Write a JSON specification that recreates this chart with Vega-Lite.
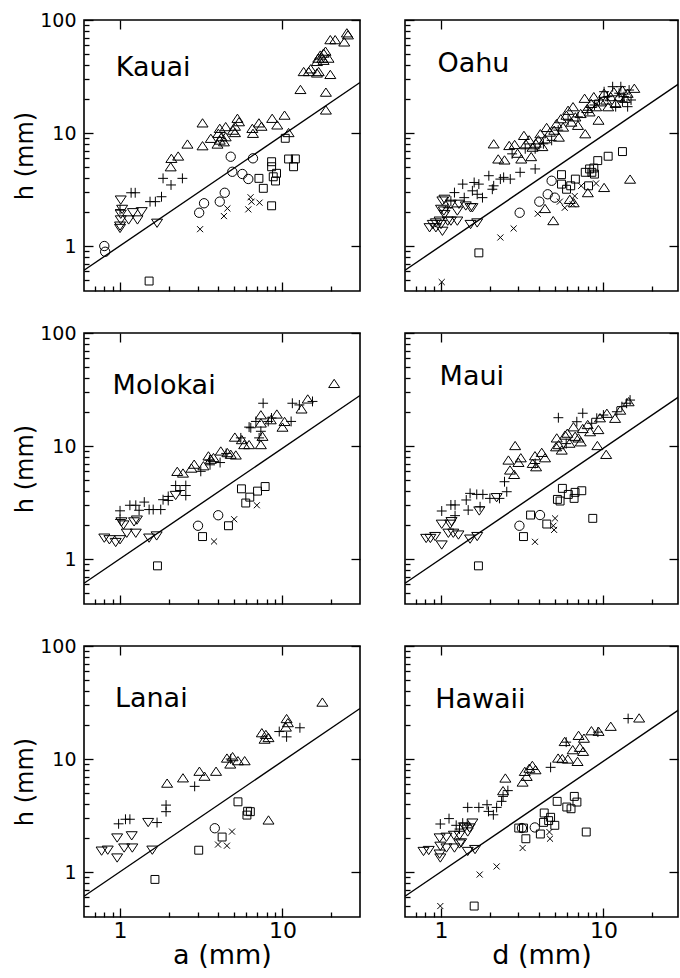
{
"$schema": "https://vega.github.io/schema/vega-lite/v6.json",
"padding": {"left": 12, "top": 10, "right": 0, "bottom": 4},
"background": "white",
"config": {
  "font": "DejaVu Sans",
  "view": {"stroke": "black", "strokeWidth": 1.6},
  "axis": {"domain": false, "grid": false, "tickColor": "black", "tickWidth": 1.3, "labelColor": "black", "titleColor": "black", "titleFontWeight": "normal", "labelOverlap": false, "labelFlush": false, "zindex": 1},
  "text": {"color": "black"}
},
"datasets": {
"fit": [{"a": 0.6, "h": 0.61}, {"a": 30, "h": 28}],
"lab": [{"i":"Kauai","a":0.94,"h":32},{"i":"Oahu","a":0.95,"h":35},{"i":"Molokai","a":0.9,"h":29},{"i":"Maui","a":0.98,"h":35},{"i":"Lanai","a":0.93,"h":29},{"i":"Hawaii","a":0.92,"h":28.5}],
"pts": [
{"i":"Kauai","s":"o","a":0.8,"h":1.0},{"i":"Kauai","s":"o","a":0.81,"h":0.89},{"i":"Kauai","s":"o","a":3.07,"h":1.97},{"i":"Kauai","s":"o","a":3.29,"h":2.39},{"i":"Kauai","s":"o","a":4.11,"h":2.47},{"i":"Kauai","s":"o","a":4.41,"h":2.96},{"i":"Kauai","s":"o","a":4.8,"h":6.17},{"i":"Kauai","s":"o","a":4.91,"h":4.54},{"i":"Kauai","s":"o","a":5.66,"h":4.34},{"i":"Kauai","s":"o","a":6.16,"h":3.92},{"i":"Kauai","s":"o","a":6.58,"h":5.97},
{"i":"Kauai","s":"x","a":3.11,"h":1.41},{"i":"Kauai","s":"x","a":4.36,"h":1.84},{"i":"Kauai","s":"x","a":4.58,"h":2.15},{"i":"Kauai","s":"x","a":6.16,"h":2.11},{"i":"Kauai","s":"x","a":6.36,"h":2.7},{"i":"Kauai","s":"x","a":6.45,"h":2.47},{"i":"Kauai","s":"x","a":7.22,"h":2.42},
{"i":"Kauai","s":"q","a":1.51,"h":0.49},{"i":"Kauai","s":"q","a":7.16,"h":3.97},{"i":"Kauai","s":"q","a":7.62,"h":3.24},{"i":"Kauai","s":"q","a":8.57,"h":5.57},{"i":"Kauai","s":"q","a":8.57,"h":5.03},{"i":"Kauai","s":"q","a":8.77,"h":4.1},{"i":"Kauai","s":"q","a":9.19,"h":4.4},{"i":"Kauai","s":"q","a":9.06,"h":3.76},{"i":"Kauai","s":"q","a":8.57,"h":2.27},{"i":"Kauai","s":"q","a":10.4,"h":8.98},{"i":"Kauai","s":"q","a":10.9,"h":5.89},{"i":"Kauai","s":"q","a":11.7,"h":5.03},{"i":"Kauai","s":"q","a":12.0,"h":5.9},
{"i":"Kauai","s":"d","a":1.01,"h":2.55},{"i":"Kauai","s":"d","a":1.03,"h":2.11},{"i":"Kauai","s":"d","a":1.01,"h":1.91},{"i":"Kauai","s":"d","a":1.01,"h":1.7},{"i":"Kauai","s":"d","a":1.0,"h":1.43},{"i":"Kauai","s":"d","a":1.0,"h":1.5},{"i":"Kauai","s":"d","a":1.13,"h":1.7},{"i":"Kauai","s":"d","a":1.2,"h":1.97},{"i":"Kauai","s":"d","a":1.36,"h":2.01},{"i":"Kauai","s":"d","a":1.28,"h":1.7},{"i":"Kauai","s":"d","a":1.69,"h":1.59},
{"i":"Kauai","s":"p","a":1.17,"h":2.96},{"i":"Kauai","s":"p","a":1.24,"h":2.96},{"i":"Kauai","s":"p","a":1.53,"h":2.47},{"i":"Kauai","s":"p","a":1.65,"h":2.47},{"i":"Kauai","s":"p","a":1.8,"h":2.73},{"i":"Kauai","s":"p","a":1.84,"h":3.97},{"i":"Kauai","s":"p","a":2.06,"h":3.47},{"i":"Kauai","s":"p","a":2.42,"h":3.97},{"i":"Kauai","s":"p","a":1.0,"h":2.1},
{"i":"Kauai","s":"u","a":2.05,"h":5.03},{"i":"Kauai","s":"u","a":2.07,"h":5.97},{"i":"Kauai","s":"u","a":2.28,"h":6.26},{"i":"Kauai","s":"u","a":2.6,"h":7.99},{"i":"Kauai","s":"u","a":3.22,"h":12.3},{"i":"Kauai","s":"u","a":3.22,"h":7.72},{"i":"Kauai","s":"u","a":3.62,"h":8.98},{"i":"Kauai","s":"u","a":3.98,"h":7.99},{"i":"Kauai","s":"u","a":4.11,"h":8.67},{"i":"Kauai","s":"u","a":4.22,"h":9.27},{"i":"Kauai","s":"u","a":4.36,"h":8.37},{"i":"Kauai","s":"u","a":4.47,"h":9.27},{"i":"Kauai","s":"u","a":4.11,"h":11.0},{"i":"Kauai","s":"u","a":4.47,"h":11.4},{"i":"Kauai","s":"u","a":4.03,"h":9.94},{"i":"Kauai","s":"u","a":4.96,"h":10.6},{"i":"Kauai","s":"u","a":5.1,"h":11.5},{"i":"Kauai","s":"u","a":5.28,"h":13.5},{"i":"Kauai","s":"u","a":5.4,"h":12.6},{"i":"Kauai","s":"u","a":5.1,"h":10.1},{"i":"Kauai","s":"u","a":6.52,"h":11.0},{"i":"Kauai","s":"u","a":6.58,"h":9.94},{"i":"Kauai","s":"u","a":7.16,"h":12.3},{"i":"Kauai","s":"u","a":7.43,"h":11.5},{"i":"Kauai","s":"u","a":8.64,"h":13.5},{"i":"Kauai","s":"u","a":9.28,"h":11.8},{"i":"Kauai","s":"u","a":10.3,"h":14.4},{"i":"Kauai","s":"u","a":10.9,"h":10.1},
{"i":"Kauai","s":"u","a":12.9,"h":24.3},{"i":"Kauai","s":"u","a":13.5,"h":35},{"i":"Kauai","s":"u","a":14.5,"h":35},{"i":"Kauai","s":"u","a":14.9,"h":37},{"i":"Kauai","s":"u","a":16.3,"h":34},{"i":"Kauai","s":"u","a":16.3,"h":43},{"i":"Kauai","s":"u","a":16.6,"h":46},{"i":"Kauai","s":"u","a":17.1,"h":49},{"i":"Kauai","s":"u","a":17.9,"h":51},{"i":"Kauai","s":"u","a":18.4,"h":53},{"i":"Kauai","s":"u","a":17.6,"h":46},{"i":"Kauai","s":"u","a":17.9,"h":44},{"i":"Kauai","s":"u","a":19.2,"h":46},{"i":"Kauai","s":"u","a":16.7,"h":35},{"i":"Kauai","s":"u","a":19.7,"h":33},{"i":"Kauai","s":"u","a":18.5,"h":23},{"i":"Kauai","s":"u","a":18.5,"h":16},{"i":"Kauai","s":"u","a":19.7,"h":67},{"i":"Kauai","s":"u","a":21.1,"h":67},{"i":"Kauai","s":"u","a":24.0,"h":64},{"i":"Kauai","s":"u","a":24.9,"h":77},{"i":"Kauai","s":"u","a":25.3,"h":74},

{"i":"Oahu","s":"u","a":2.11,"h":8.03},{"i":"Oahu","s":"u","a":2.25,"h":5.9},{"i":"Oahu","s":"u","a":2.46,"h":5.78},{"i":"Oahu","s":"u","a":2.63,"h":7.76},{"i":"Oahu","s":"u","a":2.84,"h":7.92},{"i":"Oahu","s":"u","a":2.96,"h":6.63},{"i":"Oahu","s":"u","a":3.12,"h":5.9},{"i":"Oahu","s":"u","a":3.24,"h":9.53},{"i":"Oahu","s":"u","a":3.33,"h":8.03},{"i":"Oahu","s":"u","a":3.49,"h":8.71},{"i":"Oahu","s":"u","a":3.59,"h":6.19},{"i":"Oahu","s":"u","a":3.66,"h":7.5},{"i":"Oahu","s":"u","a":3.83,"h":8.14},{"i":"Oahu","s":"u","a":3.98,"h":8.71},{"i":"Oahu","s":"u","a":4.09,"h":9.86},{"i":"Oahu","s":"u","a":4.21,"h":7.6},{"i":"Oahu","s":"u","a":4.37,"h":8.89},{"i":"Oahu","s":"u","a":4.47,"h":11.2},{"i":"Oahu","s":"u","a":4.69,"h":10.2},{"i":"Oahu","s":"u","a":4.98,"h":10.6},{"i":"Oahu","s":"u","a":5.14,"h":12.1},{"i":"Oahu","s":"u","a":5.32,"h":9.21},{"i":"Oahu","s":"u","a":5.47,"h":13.4},{"i":"Oahu","s":"u","a":5.65,"h":11.3},{"i":"Oahu","s":"u","a":5.92,"h":14.4},{"i":"Oahu","s":"u","a":6.06,"h":15.9},{"i":"Oahu","s":"u","a":6.35,"h":12.5},{"i":"Oahu","s":"u","a":6.5,"h":17.1},{"i":"Oahu","s":"u","a":6.72,"h":13.9},{"i":"Oahu","s":"u","a":6.97,"h":11.7},{"i":"Oahu","s":"u","a":7.24,"h":14.9},{"i":"Oahu","s":"u","a":7.66,"h":20.3},{"i":"Oahu","s":"u","a":7.73,"h":9.86},{"i":"Oahu","s":"u","a":7.95,"h":16.5},{"i":"Oahu","s":"u","a":8.22,"h":15.4},{"i":"Oahu","s":"u","a":8.41,"h":18.3},{"i":"Oahu","s":"u","a":8.73,"h":21.0},{"i":"Oahu","s":"u","a":9.02,"h":17.1},{"i":"Oahu","s":"u","a":9.33,"h":13.0},{"i":"Oahu","s":"u","a":9.68,"h":18.9},{"i":"Oahu","s":"u","a":10.1,"h":22.5},{"i":"Oahu","s":"u","a":10.4,"h":19.6},{"i":"Oahu","s":"u","a":10.7,"h":17.1},{"i":"Oahu","s":"u","a":11.1,"h":21.0},{"i":"Oahu","s":"u","a":11.6,"h":23.2},{"i":"Oahu","s":"u","a":11.9,"h":18.3},{"i":"Oahu","s":"u","a":12.5,"h":21.0},{"i":"Oahu","s":"u","a":13.1,"h":24.0},{"i":"Oahu","s":"u","a":13.6,"h":20.3},{"i":"Oahu","s":"u","a":14.1,"h":22.5},{"i":"Oahu","s":"u","a":15.5,"h":24.9},
{"i":"Oahu","s":"p","a":1.21,"h":2.97},{"i":"Oahu","s":"p","a":1.36,"h":3.53},{"i":"Oahu","s":"p","a":1.6,"h":3.65},{"i":"Oahu","s":"p","a":1.71,"h":3.53},{"i":"Oahu","s":"p","a":1.56,"h":3.08},{"i":"Oahu","s":"p","a":1.67,"h":2.87},{"i":"Oahu","s":"p","a":1.8,"h":2.68},{"i":"Oahu","s":"p","a":1.97,"h":4.19},{"i":"Oahu","s":"p","a":2.11,"h":3.41},{"i":"Oahu","s":"p","a":2.32,"h":3.91},{"i":"Oahu","s":"p","a":2.43,"h":4.05},{"i":"Oahu","s":"p","a":2.67,"h":3.91},{"i":"Oahu","s":"p","a":3.07,"h":4.49},{"i":"Oahu","s":"p","a":3.8,"h":4.81},{"i":"Oahu","s":"p","a":2.07,"h":3.18},{"i":"Oahu","s":"p","a":1.39,"h":2.68},{"i":"Oahu","s":"p","a":1.15,"h":2.5},{"i":"Oahu","s":"p","a":1.1,"h":2.18},{"i":"Oahu","s":"p","a":2.74,"h":6.54},{"i":"Oahu","s":"p","a":3.3,"h":7.25},{"i":"Oahu","s":"p","a":3.8,"h":7.25},{"i":"Oahu","s":"p","a":4.27,"h":8.03},{"i":"Oahu","s":"p","a":4.8,"h":8.61},{"i":"Oahu","s":"p","a":5.27,"h":10.6},{"i":"Oahu","s":"p","a":6.06,"h":13.0},{"i":"Oahu","s":"p","a":6.97,"h":13.9},{"i":"Oahu","s":"p","a":8.02,"h":15.9},{"i":"Oahu","s":"p","a":8.81,"h":17.7},{"i":"Oahu","s":"p","a":9.46,"h":19.6},{"i":"Oahu","s":"p","a":10.1,"h":23.2},{"i":"Oahu","s":"p","a":10.6,"h":21.0},{"i":"Oahu","s":"p","a":11.4,"h":25.7},{"i":"Oahu","s":"p","a":11.9,"h":17.1},{"i":"Oahu","s":"p","a":12.5,"h":22.5},{"i":"Oahu","s":"p","a":12.8,"h":25.7},{"i":"Oahu","s":"p","a":13.4,"h":21.0},{"i":"Oahu","s":"p","a":14.1,"h":17.1},{"i":"Oahu","s":"p","a":14.4,"h":24.0},{"i":"Oahu","s":"p","a":14.8,"h":19.6},{"i":"Oahu","s":"p","a":13.1,"h":18.9},
{"i":"Oahu","s":"d","a":0.85,"h":1.45},{"i":"Oahu","s":"d","a":0.89,"h":1.55},{"i":"Oahu","s":"d","a":0.93,"h":1.6},{"i":"Oahu","s":"d","a":1.0,"h":1.55},{"i":"Oahu","s":"d","a":1.02,"h":1.35},{"i":"Oahu","s":"d","a":0.93,"h":1.45},{"i":"Oahu","s":"d","a":0.98,"h":1.66},{"i":"Oahu","s":"d","a":1.1,"h":1.66},{"i":"Oahu","s":"d","a":1.15,"h":1.66},{"i":"Oahu","s":"d","a":1.26,"h":1.66},{"i":"Oahu","s":"d","a":1.52,"h":1.55},{"i":"Oahu","s":"d","a":1.67,"h":1.6},{"i":"Oahu","s":"d","a":1.02,"h":2.5},{"i":"Oahu","s":"d","a":1.04,"h":2.04},{"i":"Oahu","s":"d","a":1.05,"h":1.9},{"i":"Oahu","s":"d","a":1.15,"h":2.34},{"i":"Oahu","s":"d","a":1.29,"h":2.34},{"i":"Oahu","s":"d","a":1.52,"h":2.18},{"i":"Oahu","s":"d","a":1.0,"h":2.11},{"i":"Oahu","s":"d","a":1.05,"h":2.59},{"i":"Oahu","s":"d","a":1.26,"h":2.04},{"i":"Oahu","s":"d","a":1.42,"h":2.26},{"i":"Oahu","s":"d","a":1.56,"h":2.18},
{"i":"Oahu","s":"x","a":1.01,"h":0.48},{"i":"Oahu","s":"x","a":2.32,"h":1.19},{"i":"Oahu","s":"x","a":2.8,"h":1.43},{"i":"Oahu","s":"x","a":3.94,"h":1.93},{"i":"Oahu","s":"x","a":5.39,"h":2.47},{"i":"Oahu","s":"x","a":5.78,"h":2.18},{"i":"Oahu","s":"x","a":6.47,"h":2.34},{"i":"Oahu","s":"x","a":6.66,"h":2.77},{"i":"Oahu","s":"x","a":7.3,"h":3.41},{"i":"Oahu","s":"x","a":9.02,"h":3.58},
{"i":"Oahu","s":"o","a":3.05,"h":1.97},{"i":"Oahu","s":"o","a":4.03,"h":2.47},{"i":"Oahu","s":"o","a":4.54,"h":2.87},{"i":"Oahu","s":"o","a":5.02,"h":2.68},{"i":"Oahu","s":"o","a":4.8,"h":3.78},
{"i":"Oahu","s":"q","a":1.71,"h":0.87},{"i":"Oahu","s":"q","a":5.52,"h":4.28},{"i":"Oahu","s":"q","a":5.52,"h":3.53},{"i":"Oahu","s":"q","a":5.93,"h":3.18},{"i":"Oahu","s":"q","a":6.29,"h":3.41},{"i":"Oahu","s":"q","a":6.72,"h":3.91},{"i":"Oahu","s":"q","a":7.73,"h":4.49},{"i":"Oahu","s":"q","a":8.1,"h":3.41},{"i":"Oahu","s":"q","a":8.22,"h":4.81},{"i":"Oahu","s":"q","a":8.49,"h":4.49},{"i":"Oahu","s":"q","a":8.73,"h":4.9},{"i":"Oahu","s":"q","a":8.81,"h":4.33},{"i":"Oahu","s":"q","a":9.23,"h":5.7},{"i":"Oahu","s":"q","a":10.7,"h":6.23},{"i":"Oahu","s":"q","a":13.1,"h":6.85},
{"i":"Oahu","s":"u","a":4.37,"h":2.15},{"i":"Oahu","s":"u","a":4.91,"h":1.68},{"i":"Oahu","s":"u","a":6.21,"h":2.59},{"i":"Oahu","s":"u","a":6.56,"h":2.42},{"i":"Oahu","s":"u","a":8.02,"h":2.97},{"i":"Oahu","s":"u","a":10.1,"h":3.3},{"i":"Oahu","s":"u","a":14.6,"h":3.91},

{"i":"Molokai","s":"q","a":1.7,"h":0.87},{"i":"Molokai","s":"q","a":3.22,"h":1.58},{"i":"Molokai","s":"q","a":4.65,"h":1.97},{"i":"Molokai","s":"q","a":5.59,"h":4.18},{"i":"Molokai","s":"q","a":5.94,"h":3.13},{"i":"Molokai","s":"q","a":6.29,"h":3.53},{"i":"Molokai","s":"q","a":7.02,"h":3.99},{"i":"Molokai","s":"q","a":7.82,"h":4.38},
{"i":"Molokai","s":"o","a":3.02,"h":1.97},{"i":"Molokai","s":"o","a":4.02,"h":2.44},
{"i":"Molokai","s":"x","a":3.79,"h":1.43},{"i":"Molokai","s":"x","a":5.04,"h":2.25},{"i":"Molokai","s":"x","a":6.95,"h":2.99},
{"i":"Molokai","s":"d","a":0.8,"h":1.53},{"i":"Molokai","s":"d","a":0.86,"h":1.48},{"i":"Molokai","s":"d","a":0.94,"h":1.4},{"i":"Molokai","s":"d","a":1.0,"h":1.48},{"i":"Molokai","s":"d","a":1.05,"h":2.0},{"i":"Molokai","s":"d","a":1.02,"h":2.13},{"i":"Molokai","s":"d","a":1.1,"h":1.69},{"i":"Molokai","s":"d","a":1.22,"h":2.13},{"i":"Molokai","s":"d","a":1.27,"h":2.21},{"i":"Molokai","s":"d","a":1.25,"h":1.69},{"i":"Molokai","s":"d","a":1.51,"h":1.53},{"i":"Molokai","s":"d","a":1.68,"h":1.6},{"i":"Molokai","s":"d","a":2.2,"h":3.65},
{"i":"Molokai","s":"p","a":1.0,"h":2.67},{"i":"Molokai","s":"p","a":1.0,"h":2.24},{"i":"Molokai","s":"p","a":1.15,"h":2.99},{"i":"Molokai","s":"p","a":1.25,"h":2.99},{"i":"Molokai","s":"p","a":1.31,"h":2.7},{"i":"Molokai","s":"p","a":1.41,"h":3.19},{"i":"Molokai","s":"p","a":1.51,"h":2.74},{"i":"Molokai","s":"p","a":1.6,"h":2.74},{"i":"Molokai","s":"p","a":1.78,"h":2.74},{"i":"Molokai","s":"p","a":1.84,"h":3.35},{"i":"Molokai","s":"p","a":1.98,"h":3.58},{"i":"Molokai","s":"p","a":1.98,"h":3.3},{"i":"Molokai","s":"p","a":2.2,"h":4.47},{"i":"Molokai","s":"p","a":2.34,"h":4.04},{"i":"Molokai","s":"p","a":2.54,"h":3.65},{"i":"Molokai","s":"p","a":2.54,"h":4.47},{"i":"Molokai","s":"p","a":3.14,"h":5.97},{"i":"Molokai","s":"p","a":3.58,"h":6.82},{"i":"Molokai","s":"p","a":4.13,"h":7.14},{"i":"Molokai","s":"p","a":6.23,"h":14.7},{"i":"Molokai","s":"p","a":7.36,"h":13.5},{"i":"Molokai","s":"p","a":7.6,"h":23.9},{"i":"Molokai","s":"p","a":11.3,"h":16.5},{"i":"Molokai","s":"p","a":11.5,"h":23.9},{"i":"Molokai","s":"p","a":12.7,"h":23.1},{"i":"Molokai","s":"p","a":15.3,"h":24.8},{"i":"Molokai","s":"p","a":6.38,"h":14.5},{"i":"Molokai","s":"p","a":6.86,"h":16.5},{"i":"Molokai","s":"p","a":8.17,"h":16.5},{"i":"Molokai","s":"p","a":8.56,"h":17.7},{"i":"Molokai","s":"p","a":7.18,"h":11.8},{"i":"Molokai","s":"p","a":5.54,"h":11.8},{"i":"Molokai","s":"p","a":3.55,"h":7.5},{"i":"Molokai","s":"p","a":4.5,"h":8.6},
{"i":"Molokai","s":"u","a":2.25,"h":5.97},{"i":"Molokai","s":"u","a":2.44,"h":5.77},{"i":"Molokai","s":"u","a":2.75,"h":6.38},{"i":"Molokai","s":"u","a":2.86,"h":6.91},{"i":"Molokai","s":"u","a":3.26,"h":6.69},{"i":"Molokai","s":"u","a":3.5,"h":8.18},{"i":"Molokai","s":"u","a":3.62,"h":7.64},{"i":"Molokai","s":"u","a":3.76,"h":7.91},{"i":"Molokai","s":"u","a":4.17,"h":9.04},{"i":"Molokai","s":"u","a":4.58,"h":8.75},{"i":"Molokai","s":"u","a":4.8,"h":8.46},{"i":"Molokai","s":"u","a":5.16,"h":8.34},{"i":"Molokai","s":"u","a":5.09,"h":12.0},{"i":"Molokai","s":"u","a":5.62,"h":11.4},{"i":"Molokai","s":"u","a":5.81,"h":10.3},{"i":"Molokai","s":"u","a":6.23,"h":10.3},{"i":"Molokai","s":"u","a":7.36,"h":16.0},{"i":"Molokai","s":"u","a":7.36,"h":18.9},{"i":"Molokai","s":"u","a":7.36,"h":10.3},{"i":"Molokai","s":"u","a":7.53,"h":12.2},{"i":"Molokai","s":"u","a":8.47,"h":17.1},{"i":"Molokai","s":"u","a":9.23,"h":19.2},{"i":"Molokai","s":"u","a":10.0,"h":14.7},{"i":"Molokai","s":"u","a":10.3,"h":16.5},{"i":"Molokai","s":"u","a":13.1,"h":21.3},{"i":"Molokai","s":"u","a":14.3,"h":26.1},{"i":"Molokai","s":"u","a":20.8,"h":35.8},

{"i":"Maui","s":"q","a":1.7,"h":0.87},{"i":"Maui","s":"q","a":3.22,"h":1.58},{"i":"Maui","s":"q","a":3.56,"h":2.45},{"i":"Maui","s":"q","a":4.48,"h":2.04},{"i":"Maui","s":"q","a":5.21,"h":3.37},{"i":"Maui","s":"q","a":5.41,"h":3.26},{"i":"Maui","s":"q","a":5.59,"h":4.22},{"i":"Maui","s":"q","a":6.08,"h":3.73},{"i":"Maui","s":"q","a":6.6,"h":3.44},{"i":"Maui","s":"q","a":6.69,"h":3.89},{"i":"Maui","s":"q","a":7.36,"h":4.02},{"i":"Maui","s":"q","a":8.6,"h":2.29},
{"i":"Maui","s":"o","a":3.04,"h":1.97},{"i":"Maui","s":"o","a":4.07,"h":2.45},
{"i":"Maui","s":"x","a":3.79,"h":1.42},{"i":"Maui","s":"x","a":4.92,"h":1.97},{"i":"Maui","s":"x","a":5.04,"h":2.29},{"i":"Maui","s":"x","a":4.97,"h":1.81},
{"i":"Maui","s":"d","a":0.81,"h":1.52},{"i":"Maui","s":"d","a":0.86,"h":1.52},{"i":"Maui","s":"d","a":0.92,"h":1.58},{"i":"Maui","s":"d","a":1.01,"h":1.33},{"i":"Maui","s":"d","a":1.01,"h":2.03},{"i":"Maui","s":"d","a":1.14,"h":2.03},{"i":"Maui","s":"d","a":1.11,"h":1.69},{"i":"Maui","s":"d","a":1.19,"h":1.69},{"i":"Maui","s":"d","a":1.28,"h":1.63},{"i":"Maui","s":"d","a":1.16,"h":2.14},{"i":"Maui","s":"d","a":1.51,"h":1.5},{"i":"Maui","s":"d","a":1.67,"h":1.58},{"i":"Maui","s":"d","a":1.72,"h":2.66},{"i":"Maui","s":"d","a":2.2,"h":3.49},
{"i":"Maui","s":"p","a":1.01,"h":2.66},{"i":"Maui","s":"p","a":1.15,"h":3.01},{"i":"Maui","s":"p","a":1.22,"h":3.01},{"i":"Maui","s":"p","a":1.22,"h":2.42},{"i":"Maui","s":"p","a":1.43,"h":3.33},{"i":"Maui","s":"p","a":1.51,"h":3.81},{"i":"Maui","s":"p","a":1.47,"h":2.71},{"i":"Maui","s":"p","a":1.66,"h":3.73},{"i":"Maui","s":"p","a":1.81,"h":3.73},{"i":"Maui","s":"p","a":1.74,"h":2.9},{"i":"Maui","s":"p","a":2.0,"h":3.44},{"i":"Maui","s":"p","a":2.29,"h":3.44},{"i":"Maui","s":"p","a":2.54,"h":3.94},{"i":"Maui","s":"p","a":2.46,"h":4.83},{"i":"Maui","s":"p","a":5.28,"h":17.8},{"i":"Maui","s":"p","a":7.46,"h":19.5},{"i":"Maui","s":"p","a":6.86,"h":16.4},{"i":"Maui","s":"p","a":8.47,"h":15.9},{"i":"Maui","s":"p","a":9.1,"h":17.6},{"i":"Maui","s":"p","a":10.0,"h":18.8},{"i":"Maui","s":"p","a":12.1,"h":20.1},{"i":"Maui","s":"p","a":13.0,"h":22.3},{"i":"Maui","s":"p","a":13.9,"h":23.9},{"i":"Maui","s":"p","a":14.6,"h":25.5},{"i":"Maui","s":"p","a":3.8,"h":7.0},{"i":"Maui","s":"p","a":5.9,"h":10.5},
{"i":"Maui","s":"u","a":2.86,"h":10.1},{"i":"Maui","s":"u","a":2.6,"h":7.52},{"i":"Maui","s":"u","a":2.66,"h":6.14},{"i":"Maui","s":"u","a":2.82,"h":5.61},{"i":"Maui","s":"u","a":3.0,"h":7.17},{"i":"Maui","s":"u","a":3.1,"h":7.88},{"i":"Maui","s":"u","a":3.79,"h":8.21},{"i":"Maui","s":"u","a":3.67,"h":7.03},{"i":"Maui","s":"u","a":3.85,"h":6.56},{"i":"Maui","s":"u","a":4.17,"h":8.79},{"i":"Maui","s":"u","a":4.37,"h":7.88},{"i":"Maui","s":"u","a":5.16,"h":11.8},{"i":"Maui","s":"u","a":5.11,"h":9.86},{"i":"Maui","s":"u","a":5.54,"h":9.22},{"i":"Maui","s":"u","a":5.81,"h":12.5},{"i":"Maui","s":"u","a":6.18,"h":10.6},{"i":"Maui","s":"u","a":6.54,"h":14.8},{"i":"Maui","s":"u","a":7.02,"h":11.8},{"i":"Maui","s":"u","a":7.25,"h":10.9},{"i":"Maui","s":"u","a":7.46,"h":14.3},{"i":"Maui","s":"u","a":8.28,"h":13.4},{"i":"Maui","s":"u","a":9.31,"h":14.0},{"i":"Maui","s":"u","a":9.18,"h":10.1},{"i":"Maui","s":"u","a":10.4,"h":8.44},{"i":"Maui","s":"u","a":9.53,"h":17.8},{"i":"Maui","s":"u","a":10.5,"h":19.5},{"i":"Maui","s":"u","a":11.8,"h":17.6},{"i":"Maui","s":"u","a":12.7,"h":20.8},{"i":"Maui","s":"u","a":14.3,"h":24.7},{"i":"Maui","s":"u","a":5.3,"h":10.3},{"i":"Maui","s":"u","a":6.0,"h":13.0},{"i":"Maui","s":"u","a":6.7,"h":12.2},{"i":"Maui","s":"u","a":8.0,"h":15.5},

{"i":"Lanai","s":"d","a":0.77,"h":1.53},{"i":"Lanai","s":"d","a":0.84,"h":1.56},{"i":"Lanai","s":"d","a":0.96,"h":1.33},{"i":"Lanai","s":"d","a":0.96,"h":2.0},{"i":"Lanai","s":"d","a":1.06,"h":1.63},{"i":"Lanai","s":"d","a":1.19,"h":1.63},{"i":"Lanai","s":"d","a":1.18,"h":2.09},{"i":"Lanai","s":"d","a":1.49,"h":2.74},{"i":"Lanai","s":"d","a":1.58,"h":1.56},
{"i":"Lanai","s":"p","a":0.98,"h":2.67},{"i":"Lanai","s":"p","a":1.08,"h":2.93},{"i":"Lanai","s":"p","a":1.15,"h":2.93},{"i":"Lanai","s":"p","a":1.69,"h":2.74},{"i":"Lanai","s":"p","a":1.92,"h":3.91},{"i":"Lanai","s":"p","a":1.92,"h":3.42},{"i":"Lanai","s":"p","a":2.88,"h":5.73},{"i":"Lanai","s":"p","a":9.55,"h":17.5},{"i":"Lanai","s":"p","a":10.6,"h":15.7},{"i":"Lanai","s":"p","a":12.8,"h":18.9},{"i":"Lanai","s":"p","a":4.8,"h":10.0},
{"i":"Lanai","s":"u","a":1.95,"h":6.12},{"i":"Lanai","s":"u","a":2.44,"h":6.82},{"i":"Lanai","s":"u","a":3.08,"h":7.8},{"i":"Lanai","s":"u","a":3.31,"h":7.05},{"i":"Lanai","s":"u","a":3.9,"h":7.8},{"i":"Lanai","s":"u","a":4.55,"h":10.2},{"i":"Lanai","s":"u","a":4.77,"h":9.04},{"i":"Lanai","s":"u","a":4.93,"h":10.5},{"i":"Lanai","s":"u","a":5.32,"h":9.67},{"i":"Lanai","s":"u","a":5.85,"h":9.67},{"i":"Lanai","s":"u","a":7.46,"h":17.1},{"i":"Lanai","s":"u","a":7.76,"h":15.0},{"i":"Lanai","s":"u","a":8.2,"h":15.5},{"i":"Lanai","s":"u","a":7.9,"h":16.5},{"i":"Lanai","s":"u","a":10.6,"h":22.8},{"i":"Lanai","s":"u","a":10.5,"h":19.2},{"i":"Lanai","s":"u","a":10.8,"h":21.0},{"i":"Lanai","s":"u","a":17.6,"h":31.9},{"i":"Lanai","s":"u","a":8.2,"h":2.89},
{"i":"Lanai","s":"q","a":1.64,"h":0.86},{"i":"Lanai","s":"q","a":3.05,"h":1.56},{"i":"Lanai","s":"q","a":4.25,"h":2.04},{"i":"Lanai","s":"q","a":5.32,"h":4.18},{"i":"Lanai","s":"q","a":6.04,"h":3.19},{"i":"Lanai","s":"q","a":6.34,"h":3.42},{"i":"Lanai","s":"q","a":6.1,"h":3.45},
{"i":"Lanai","s":"o","a":3.83,"h":2.44},
{"i":"Lanai","s":"x","a":4.01,"h":1.75},{"i":"Lanai","s":"x","a":4.55,"h":1.71},{"i":"Lanai","s":"x","a":4.89,"h":2.28},

{"i":"Hawaii","s":"x","a":0.99,"h":0.5},{"i":"Hawaii","s":"x","a":1.73,"h":0.95},{"i":"Hawaii","s":"x","a":2.2,"h":1.12},{"i":"Hawaii","s":"x","a":3.18,"h":1.63},{"i":"Hawaii","s":"x","a":4.65,"h":2.26},{"i":"Hawaii","s":"x","a":4.69,"h":1.97},
{"i":"Hawaii","s":"q","a":1.6,"h":0.5},{"i":"Hawaii","s":"q","a":3.01,"h":2.45},{"i":"Hawaii","s":"q","a":3.22,"h":2.45},{"i":"Hawaii","s":"q","a":3.33,"h":1.97},{"i":"Hawaii","s":"q","a":4.09,"h":2.17},{"i":"Hawaii","s":"q","a":4.28,"h":2.75},{"i":"Hawaii","s":"q","a":4.32,"h":3.33},{"i":"Hawaii","s":"q","a":4.73,"h":3.05},{"i":"Hawaii","s":"q","a":5.02,"h":2.59},{"i":"Hawaii","s":"q","a":5.19,"h":4.22},{"i":"Hawaii","s":"q","a":5.95,"h":3.76},{"i":"Hawaii","s":"q","a":6.32,"h":3.63},{"i":"Hawaii","s":"q","a":6.62,"h":4.67},{"i":"Hawaii","s":"q","a":6.87,"h":4.16},{"i":"Hawaii","s":"q","a":7.84,"h":2.26},{"i":"Hawaii","s":"q","a":4.6,"h":2.85},
{"i":"Hawaii","s":"o","a":3.15,"h":2.45},{"i":"Hawaii","s":"o","a":3.78,"h":2.48},
{"i":"Hawaii","s":"d","a":0.78,"h":1.52},{"i":"Hawaii","s":"d","a":0.84,"h":1.55},{"i":"Hawaii","s":"d","a":0.98,"h":1.44},{"i":"Hawaii","s":"d","a":0.99,"h":1.33},{"i":"Hawaii","s":"d","a":0.98,"h":2.0},{"i":"Hawaii","s":"d","a":1.08,"h":2.03},{"i":"Hawaii","s":"d","a":0.99,"h":1.69},{"i":"Hawaii","s":"d","a":1.08,"h":1.63},{"i":"Hawaii","s":"d","a":1.21,"h":1.63},{"i":"Hawaii","s":"d","a":1.3,"h":1.77},{"i":"Hawaii","s":"d","a":1.2,"h":2.11},{"i":"Hawaii","s":"d","a":1.33,"h":1.81},{"i":"Hawaii","s":"d","a":1.46,"h":1.52},{"i":"Hawaii","s":"d","a":1.62,"h":1.58},{"i":"Hawaii","s":"d","a":1.46,"h":2.26},{"i":"Hawaii","s":"d","a":1.56,"h":2.71},{"i":"Hawaii","s":"d","a":1.3,"h":2.11},{"i":"Hawaii","s":"d","a":1.4,"h":2.5},{"i":"Hawaii","s":"d","a":1.5,"h":2.45},
{"i":"Hawaii","s":"p","a":0.99,"h":2.66},{"i":"Hawaii","s":"p","a":1.12,"h":2.97},{"i":"Hawaii","s":"p","a":1.24,"h":2.59},{"i":"Hawaii","s":"p","a":1.36,"h":2.71},{"i":"Hawaii","s":"p","a":1.46,"h":3.73},{"i":"Hawaii","s":"p","a":1.71,"h":3.73},{"i":"Hawaii","s":"p","a":1.92,"h":3.94},{"i":"Hawaii","s":"p","a":1.96,"h":3.44},{"i":"Hawaii","s":"p","a":2.1,"h":3.21},{"i":"Hawaii","s":"p","a":2.2,"h":3.73},{"i":"Hawaii","s":"p","a":2.36,"h":4.22},{"i":"Hawaii","s":"p","a":2.41,"h":4.67},{"i":"Hawaii","s":"p","a":2.58,"h":5.25},{"i":"Hawaii","s":"p","a":4.73,"h":8.44},{"i":"Hawaii","s":"p","a":14.2,"h":22.8},{"i":"Hawaii","s":"p","a":9.25,"h":17.3},{"i":"Hawaii","s":"p","a":5.9,"h":14.1},{"i":"Hawaii","s":"p","a":1.3,"h":2.4},{"i":"Hawaii","s":"p","a":1.45,"h":2.6},
{"i":"Hawaii","s":"u","a":2.49,"h":6.79},{"i":"Hawaii","s":"u","a":2.41,"h":5.25},{"i":"Hawaii","s":"u","a":3.18,"h":6.26},{"i":"Hawaii","s":"u","a":3.28,"h":7.78},{"i":"Hawaii","s":"u","a":3.37,"h":7.03},{"i":"Hawaii","s":"u","a":3.65,"h":8.79},{"i":"Hawaii","s":"u","a":3.82,"h":8.05},{"i":"Hawaii","s":"u","a":5.26,"h":10.2},{"i":"Hawaii","s":"u","a":5.58,"h":10.1},{"i":"Hawaii","s":"u","a":6.04,"h":10.0},{"i":"Hawaii","s":"u","a":6.93,"h":9.53},{"i":"Hawaii","s":"u","a":5.77,"h":14.3},{"i":"Hawaii","s":"u","a":6.47,"h":12.1},{"i":"Hawaii","s":"u","a":7.03,"h":16.2},{"i":"Hawaii","s":"u","a":7.16,"h":12.7},{"i":"Hawaii","s":"u","a":7.5,"h":11.7},{"i":"Hawaii","s":"u","a":7.59,"h":15.3},{"i":"Hawaii","s":"u","a":8.44,"h":17.8},{"i":"Hawaii","s":"u","a":9.34,"h":17.6},{"i":"Hawaii","s":"u","a":11.1,"h":19.5},{"i":"Hawaii","s":"u","a":16.6,"h":23.1},{"i":"Hawaii","s":"u","a":3.5,"h":8.3}
]
},
"spacing": 30,
"vconcat": [
 {"spacing": 41, "hconcat": [
  {"width": 276, "height": 271, "resolve": {"axis": {"x": "independent", "y": "independent"}}, "layer": [
   {"data": {"name": "pts"}, "transform": [{"filter": "datum.i == 'Kauai'"}],
    "mark": {"type": "point", "filled": false, "stroke": "black", "strokeWidth": 1, "size": 121, "opacity": 1},
    "encoding": {
     "x": {"field": "a", "type": "quantitative", "scale": {"type": "log", "domain": [0.6, 30], "nice": false}, "axis": {"orient": "bottom", "values": [0.7,0.8,0.9,2,3,4,5,6,7,8,9,20], "tickSize": -5, "labels": false, "title": null}},
     "y": {"field": "h", "type": "quantitative", "scale": {"type": "log", "domain": [0.4, 100], "nice": false}, "axis": {"orient": "left", "values": [0.5,0.6,0.7,0.8,0.9,2,3,4,5,6,7,8,9,20,30,40,50,60,70,80,90], "tickSize": -5, "labels": false, "title": null}},
     "shape": {"field": "s", "type": "nominal", "legend": null, "scale": {"domain": ["u","d","p","o","q","x"], "range": ["M0,-0.75L1,0.75L-1,0.75Z", "M0,0.75L1,-0.75L-1,-0.75Z", "M-0.9,0H0.9M0,-0.9V0.9", "M-0.85,0A0.85,0.85,0,1,1,0.85,0A0.85,0.85,0,1,1,-0.85,0Z", "M-0.72,-0.72H0.72V0.72H-0.72Z", "M-0.55,-0.55L0.55,0.55M-0.55,0.55L0.55,-0.55"]}}
    }},
   {"data": {"name": "fit"}, "mark": {"type": "line", "stroke": "black", "strokeWidth": 1.4, "clip": true},
    "encoding": {
     "x": {"field": "a", "type": "quantitative", "scale": {"type": "log", "domain": [0.6, 30], "nice": false}, "axis": {"orient": "bottom", "values": [1,10], "tickSize": -9, "labels": false, "title": null}},
     "y": {"field": "h", "type": "quantitative", "scale": {"type": "log", "domain": [0.4, 100], "nice": false}, "axis": {"orient": "left", "values": [1,10,100], "tickSize": -9, "labelExpr": "datum.value == 1 ? '1' : datum.value == 10 ? '10' : '100'", "labelFontSize": 19, "labelPadding": 17, "title": "h (mm)", "titleFontSize": 24, "titlePadding": 2}}
    }},
   {"data": {"name": "lab"}, "transform": [{"filter": "datum.i == 'Kauai'"}], "mark": {"type": "text", "align": "left", "baseline": "alphabetic", "fontSize": 27},
    "encoding": {
     "x": {"field": "a", "type": "quantitative", "scale": {"type": "log", "domain": [0.6, 30], "nice": false}, "axis": {"orient": "top", "values": [1,10], "tickSize": -9, "labels": false, "title": null}},
     "y": {"field": "h", "type": "quantitative", "scale": {"type": "log", "domain": [0.4, 100], "nice": false}, "axis": {"orient": "right", "values": [1,10,100], "tickSize": -9, "labels": false, "title": null}},
     "text": {"field": "i"}
    }}
  ]},
  {"width": 273, "height": 271, "resolve": {"axis": {"x": "independent", "y": "independent"}}, "layer": [
   {"data": {"name": "pts"}, "transform": [{"filter": "datum.i == 'Oahu'"}],
    "mark": {"type": "point", "filled": false, "stroke": "black", "strokeWidth": 1, "size": 121, "opacity": 1},
    "encoding": {
     "x": {"field": "a", "type": "quantitative", "scale": {"type": "log", "domain": [0.6, 28.8], "nice": false}, "axis": {"orient": "bottom", "values": [0.7,0.8,0.9,2,3,4,5,6,7,8,9,20], "tickSize": -5, "labels": false, "title": null}},
     "y": {"field": "h", "type": "quantitative", "scale": {"type": "log", "domain": [0.4, 100], "nice": false}, "axis": {"orient": "left", "values": [0.5,0.6,0.7,0.8,0.9,2,3,4,5,6,7,8,9,20,30,40,50,60,70,80,90], "tickSize": -5, "labels": false, "title": null}},
     "shape": {"field": "s", "type": "nominal", "legend": null, "scale": {"domain": ["u","d","p","o","q","x"], "range": ["M0,-0.75L1,0.75L-1,0.75Z", "M0,0.75L1,-0.75L-1,-0.75Z", "M-0.9,0H0.9M0,-0.9V0.9", "M-0.85,0A0.85,0.85,0,1,1,0.85,0A0.85,0.85,0,1,1,-0.85,0Z", "M-0.72,-0.72H0.72V0.72H-0.72Z", "M-0.55,-0.55L0.55,0.55M-0.55,0.55L0.55,-0.55"]}}
    }},
   {"data": {"name": "fit"}, "mark": {"type": "line", "stroke": "black", "strokeWidth": 1.4, "clip": true},
    "encoding": {
     "x": {"field": "a", "type": "quantitative", "scale": {"type": "log", "domain": [0.6, 28.8], "nice": false}, "axis": {"orient": "bottom", "values": [1,10], "tickSize": -9, "labels": false, "title": null}},
     "y": {"field": "h", "type": "quantitative", "scale": {"type": "log", "domain": [0.4, 100], "nice": false}, "axis": {"orient": "left", "values": [1,10,100], "tickSize": -9, "labels": false, "title": null}}
    }},
   {"data": {"name": "lab"}, "transform": [{"filter": "datum.i == 'Oahu'"}], "mark": {"type": "text", "align": "left", "baseline": "alphabetic", "fontSize": 27},
    "encoding": {
     "x": {"field": "a", "type": "quantitative", "scale": {"type": "log", "domain": [0.6, 28.8], "nice": false}, "axis": {"orient": "top", "values": [1,10], "tickSize": -9, "labels": false, "title": null}},
     "y": {"field": "h", "type": "quantitative", "scale": {"type": "log", "domain": [0.4, 100], "nice": false}, "axis": {"orient": "right", "values": [1,10,100], "tickSize": -9, "labels": false, "title": null}},
     "text": {"field": "i"}
    }}
  ]}
 ]},
 {"spacing": 41, "hconcat": [
  {"width": 276, "height": 271, "resolve": {"axis": {"x": "independent", "y": "independent"}}, "layer": [
   {"data": {"name": "pts"}, "transform": [{"filter": "datum.i == 'Molokai'"}],
    "mark": {"type": "point", "filled": false, "stroke": "black", "strokeWidth": 1, "size": 121, "opacity": 1},
    "encoding": {
     "x": {"field": "a", "type": "quantitative", "scale": {"type": "log", "domain": [0.6, 30], "nice": false}, "axis": {"orient": "bottom", "values": [0.7,0.8,0.9,2,3,4,5,6,7,8,9,20], "tickSize": -5, "labels": false, "title": null}},
     "y": {"field": "h", "type": "quantitative", "scale": {"type": "log", "domain": [0.4, 100], "nice": false}, "axis": {"orient": "left", "values": [0.5,0.6,0.7,0.8,0.9,2,3,4,5,6,7,8,9,20,30,40,50,60,70,80,90], "tickSize": -5, "labels": false, "title": null}},
     "shape": {"field": "s", "type": "nominal", "legend": null, "scale": {"domain": ["u","d","p","o","q","x"], "range": ["M0,-0.75L1,0.75L-1,0.75Z", "M0,0.75L1,-0.75L-1,-0.75Z", "M-0.9,0H0.9M0,-0.9V0.9", "M-0.85,0A0.85,0.85,0,1,1,0.85,0A0.85,0.85,0,1,1,-0.85,0Z", "M-0.72,-0.72H0.72V0.72H-0.72Z", "M-0.55,-0.55L0.55,0.55M-0.55,0.55L0.55,-0.55"]}}
    }},
   {"data": {"name": "fit"}, "mark": {"type": "line", "stroke": "black", "strokeWidth": 1.4, "clip": true},
    "encoding": {
     "x": {"field": "a", "type": "quantitative", "scale": {"type": "log", "domain": [0.6, 30], "nice": false}, "axis": {"orient": "bottom", "values": [1,10], "tickSize": -9, "labels": false, "title": null}},
     "y": {"field": "h", "type": "quantitative", "scale": {"type": "log", "domain": [0.4, 100], "nice": false}, "axis": {"orient": "left", "values": [1,10,100], "tickSize": -9, "labelExpr": "datum.value == 1 ? '1' : datum.value == 10 ? '10' : '100'", "labelFontSize": 19, "labelPadding": 17, "title": "h (mm)", "titleFontSize": 24, "titlePadding": 2}}
    }},
   {"data": {"name": "lab"}, "transform": [{"filter": "datum.i == 'Molokai'"}], "mark": {"type": "text", "align": "left", "baseline": "alphabetic", "fontSize": 27},
    "encoding": {
     "x": {"field": "a", "type": "quantitative", "scale": {"type": "log", "domain": [0.6, 30], "nice": false}, "axis": {"orient": "top", "values": [1,10], "tickSize": -9, "labels": false, "title": null}},
     "y": {"field": "h", "type": "quantitative", "scale": {"type": "log", "domain": [0.4, 100], "nice": false}, "axis": {"orient": "right", "values": [1,10,100], "tickSize": -9, "labels": false, "title": null}},
     "text": {"field": "i"}
    }}
  ]},
  {"width": 273, "height": 271, "resolve": {"axis": {"x": "independent", "y": "independent"}}, "layer": [
   {"data": {"name": "pts"}, "transform": [{"filter": "datum.i == 'Maui'"}],
    "mark": {"type": "point", "filled": false, "stroke": "black", "strokeWidth": 1, "size": 121, "opacity": 1},
    "encoding": {
     "x": {"field": "a", "type": "quantitative", "scale": {"type": "log", "domain": [0.6, 28.8], "nice": false}, "axis": {"orient": "bottom", "values": [0.7,0.8,0.9,2,3,4,5,6,7,8,9,20], "tickSize": -5, "labels": false, "title": null}},
     "y": {"field": "h", "type": "quantitative", "scale": {"type": "log", "domain": [0.4, 100], "nice": false}, "axis": {"orient": "left", "values": [0.5,0.6,0.7,0.8,0.9,2,3,4,5,6,7,8,9,20,30,40,50,60,70,80,90], "tickSize": -5, "labels": false, "title": null}},
     "shape": {"field": "s", "type": "nominal", "legend": null, "scale": {"domain": ["u","d","p","o","q","x"], "range": ["M0,-0.75L1,0.75L-1,0.75Z", "M0,0.75L1,-0.75L-1,-0.75Z", "M-0.9,0H0.9M0,-0.9V0.9", "M-0.85,0A0.85,0.85,0,1,1,0.85,0A0.85,0.85,0,1,1,-0.85,0Z", "M-0.72,-0.72H0.72V0.72H-0.72Z", "M-0.55,-0.55L0.55,0.55M-0.55,0.55L0.55,-0.55"]}}
    }},
   {"data": {"name": "fit"}, "mark": {"type": "line", "stroke": "black", "strokeWidth": 1.4, "clip": true},
    "encoding": {
     "x": {"field": "a", "type": "quantitative", "scale": {"type": "log", "domain": [0.6, 28.8], "nice": false}, "axis": {"orient": "bottom", "values": [1,10], "tickSize": -9, "labels": false, "title": null}},
     "y": {"field": "h", "type": "quantitative", "scale": {"type": "log", "domain": [0.4, 100], "nice": false}, "axis": {"orient": "left", "values": [1,10,100], "tickSize": -9, "labels": false, "title": null}}
    }},
   {"data": {"name": "lab"}, "transform": [{"filter": "datum.i == 'Maui'"}], "mark": {"type": "text", "align": "left", "baseline": "alphabetic", "fontSize": 27},
    "encoding": {
     "x": {"field": "a", "type": "quantitative", "scale": {"type": "log", "domain": [0.6, 28.8], "nice": false}, "axis": {"orient": "top", "values": [1,10], "tickSize": -9, "labels": false, "title": null}},
     "y": {"field": "h", "type": "quantitative", "scale": {"type": "log", "domain": [0.4, 100], "nice": false}, "axis": {"orient": "right", "values": [1,10,100], "tickSize": -9, "labels": false, "title": null}},
     "text": {"field": "i"}
    }}
  ]}
 ]},
 {"spacing": 41, "hconcat": [
  {"width": 276, "height": 271, "resolve": {"axis": {"x": "independent", "y": "independent"}}, "layer": [
   {"data": {"name": "pts"}, "transform": [{"filter": "datum.i == 'Lanai'"}],
    "mark": {"type": "point", "filled": false, "stroke": "black", "strokeWidth": 1, "size": 121, "opacity": 1},
    "encoding": {
     "x": {"field": "a", "type": "quantitative", "scale": {"type": "log", "domain": [0.6, 30], "nice": false}, "axis": {"orient": "bottom", "values": [0.7,0.8,0.9,2,3,4,5,6,7,8,9,20], "tickSize": -5, "labels": false, "title": null}},
     "y": {"field": "h", "type": "quantitative", "scale": {"type": "log", "domain": [0.4, 100], "nice": false}, "axis": {"orient": "left", "values": [0.5,0.6,0.7,0.8,0.9,2,3,4,5,6,7,8,9,20,30,40,50,60,70,80,90], "tickSize": -5, "labels": false, "title": null}},
     "shape": {"field": "s", "type": "nominal", "legend": null, "scale": {"domain": ["u","d","p","o","q","x"], "range": ["M0,-0.75L1,0.75L-1,0.75Z", "M0,0.75L1,-0.75L-1,-0.75Z", "M-0.9,0H0.9M0,-0.9V0.9", "M-0.85,0A0.85,0.85,0,1,1,0.85,0A0.85,0.85,0,1,1,-0.85,0Z", "M-0.72,-0.72H0.72V0.72H-0.72Z", "M-0.55,-0.55L0.55,0.55M-0.55,0.55L0.55,-0.55"]}}
    }},
   {"data": {"name": "fit"}, "mark": {"type": "line", "stroke": "black", "strokeWidth": 1.4, "clip": true},
    "encoding": {
     "x": {"field": "a", "type": "quantitative", "scale": {"type": "log", "domain": [0.6, 30], "nice": false}, "axis": {"orient": "bottom", "values": [1,10], "tickSize": -9, "labelExpr": "datum.value == 1 ? '1' : '10'", "labelFontSize": 22, "labelPadding": 12, "title": "a (mm)", "titleFontSize": 27, "titlePadding": 1}},
     "y": {"field": "h", "type": "quantitative", "scale": {"type": "log", "domain": [0.4, 100], "nice": false}, "axis": {"orient": "left", "values": [1,10,100], "tickSize": -9, "labelExpr": "datum.value == 1 ? '1' : datum.value == 10 ? '10' : '100'", "labelFontSize": 19, "labelPadding": 17, "title": "h (mm)", "titleFontSize": 24, "titlePadding": 2}}
    }},
   {"data": {"name": "lab"}, "transform": [{"filter": "datum.i == 'Lanai'"}], "mark": {"type": "text", "align": "left", "baseline": "alphabetic", "fontSize": 27},
    "encoding": {
     "x": {"field": "a", "type": "quantitative", "scale": {"type": "log", "domain": [0.6, 30], "nice": false}, "axis": {"orient": "top", "values": [1,10], "tickSize": -9, "labels": false, "title": null}},
     "y": {"field": "h", "type": "quantitative", "scale": {"type": "log", "domain": [0.4, 100], "nice": false}, "axis": {"orient": "right", "values": [1,10,100], "tickSize": -9, "labels": false, "title": null}},
     "text": {"field": "i"}
    }}
  ]},
  {"width": 273, "height": 271, "resolve": {"axis": {"x": "independent", "y": "independent"}}, "layer": [
   {"data": {"name": "pts"}, "transform": [{"filter": "datum.i == 'Hawaii'"}],
    "mark": {"type": "point", "filled": false, "stroke": "black", "strokeWidth": 1, "size": 121, "opacity": 1},
    "encoding": {
     "x": {"field": "a", "type": "quantitative", "scale": {"type": "log", "domain": [0.6, 28.8], "nice": false}, "axis": {"orient": "bottom", "values": [0.7,0.8,0.9,2,3,4,5,6,7,8,9,20], "tickSize": -5, "labels": false, "title": null}},
     "y": {"field": "h", "type": "quantitative", "scale": {"type": "log", "domain": [0.4, 100], "nice": false}, "axis": {"orient": "left", "values": [0.5,0.6,0.7,0.8,0.9,2,3,4,5,6,7,8,9,20,30,40,50,60,70,80,90], "tickSize": -5, "labels": false, "title": null}},
     "shape": {"field": "s", "type": "nominal", "legend": null, "scale": {"domain": ["u","d","p","o","q","x"], "range": ["M0,-0.75L1,0.75L-1,0.75Z", "M0,0.75L1,-0.75L-1,-0.75Z", "M-0.9,0H0.9M0,-0.9V0.9", "M-0.85,0A0.85,0.85,0,1,1,0.85,0A0.85,0.85,0,1,1,-0.85,0Z", "M-0.72,-0.72H0.72V0.72H-0.72Z", "M-0.55,-0.55L0.55,0.55M-0.55,0.55L0.55,-0.55"]}}
    }},
   {"data": {"name": "fit"}, "mark": {"type": "line", "stroke": "black", "strokeWidth": 1.4, "clip": true},
    "encoding": {
     "x": {"field": "a", "type": "quantitative", "scale": {"type": "log", "domain": [0.6, 28.8], "nice": false}, "axis": {"orient": "bottom", "values": [1,10], "tickSize": -9, "labelExpr": "datum.value == 1 ? '1' : '10'", "labelFontSize": 22, "labelPadding": 12, "title": "d (mm)", "titleFontSize": 27, "titlePadding": 1}},
     "y": {"field": "h", "type": "quantitative", "scale": {"type": "log", "domain": [0.4, 100], "nice": false}, "axis": {"orient": "left", "values": [1,10,100], "tickSize": -9, "labels": false, "title": null}}
    }},
   {"data": {"name": "lab"}, "transform": [{"filter": "datum.i == 'Hawaii'"}], "mark": {"type": "text", "align": "left", "baseline": "alphabetic", "fontSize": 27},
    "encoding": {
     "x": {"field": "a", "type": "quantitative", "scale": {"type": "log", "domain": [0.6, 28.8], "nice": false}, "axis": {"orient": "top", "values": [1,10], "tickSize": -9, "labels": false, "title": null}},
     "y": {"field": "h", "type": "quantitative", "scale": {"type": "log", "domain": [0.4, 100], "nice": false}, "axis": {"orient": "right", "values": [1,10,100], "tickSize": -9, "labels": false, "title": null}},
     "text": {"field": "i"}
    }}
  ]}
 ]}
]
}
